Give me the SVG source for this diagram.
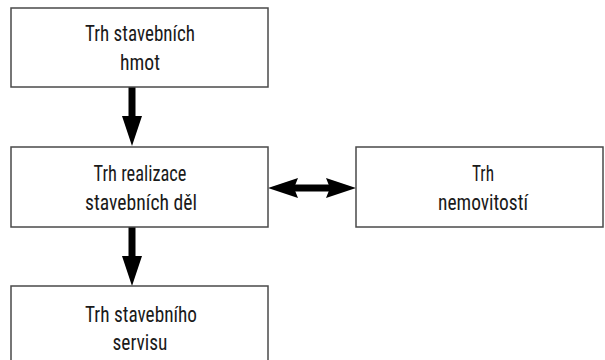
<svg xmlns="http://www.w3.org/2000/svg" width="605" height="360" viewBox="0 0 605 360">
  <style>
    .box { fill: #ffffff; stroke: #4a4a4a; stroke-width: 1.5; }
    .lbl { font-family: "Liberation Sans Narrow", "Roboto Condensed", "DejaVu Sans Condensed", sans-serif; font-stretch: condensed; font-size: 22px; font-weight: 400; fill: #1a1a1a; text-anchor: middle; }
    .shaft { stroke: #000000; stroke-width: 7; fill: none; }
    .head { fill: #000000; }
  </style>
  <rect width="605" height="360" fill="#ffffff"/>

  <g id="connectors">
    <!-- materials -> construction -->
    <line class="shaft" x1="132" y1="87" x2="132" y2="118"/>
    <polygon class="head" points="122,116 142,116 132,146"/>
    <!-- construction -> services -->
    <line class="shaft" x1="132" y1="227" x2="132" y2="258"/>
    <polygon class="head" points="122,256 142,256 132,286"/>
    <!-- construction <-> real estate -->
    <line class="shaft" x1="292" y1="188" x2="332" y2="188"/>
    <polygon class="head" points="268,188 298,178 294,188 298,198"/>
    <polygon class="head" points="356,188 326,178 330,188 326,198"/>
  </g>

  <g id="node-materials">
    <rect class="box" x="11" y="8" width="257" height="79"/>
    <text class="lbl" x="140" y="41" textLength="110" lengthAdjust="spacingAndGlyphs">Trh stavebních</text>
    <text class="lbl" x="140" y="70" textLength="40" lengthAdjust="spacingAndGlyphs">hmot</text>
  </g>

  <g id="node-construction">
    <rect class="box" x="11" y="147" width="257" height="80"/>
    <text class="lbl" x="140" y="181" textLength="93" lengthAdjust="spacingAndGlyphs">Trh realizace</text>
    <text class="lbl" x="141" y="210" textLength="112" lengthAdjust="spacingAndGlyphs">stavebních děl</text>
  </g>

  <g id="node-realestate">
    <rect class="box" x="356" y="147" width="247" height="80"/>
    <text class="lbl" x="483" y="181" textLength="22" lengthAdjust="spacingAndGlyphs">Trh</text>
    <text class="lbl" x="483" y="210" textLength="90" lengthAdjust="spacingAndGlyphs">nemovitostí</text>
  </g>

  <g id="node-services">
    <rect class="box" x="11" y="286" width="257" height="80"/>
    <text class="lbl" x="141" y="322" textLength="112" lengthAdjust="spacingAndGlyphs">Trh stavebního</text>
    <text class="lbl" x="140" y="350" textLength="55" lengthAdjust="spacingAndGlyphs">servisu</text>
  </g>
</svg>
